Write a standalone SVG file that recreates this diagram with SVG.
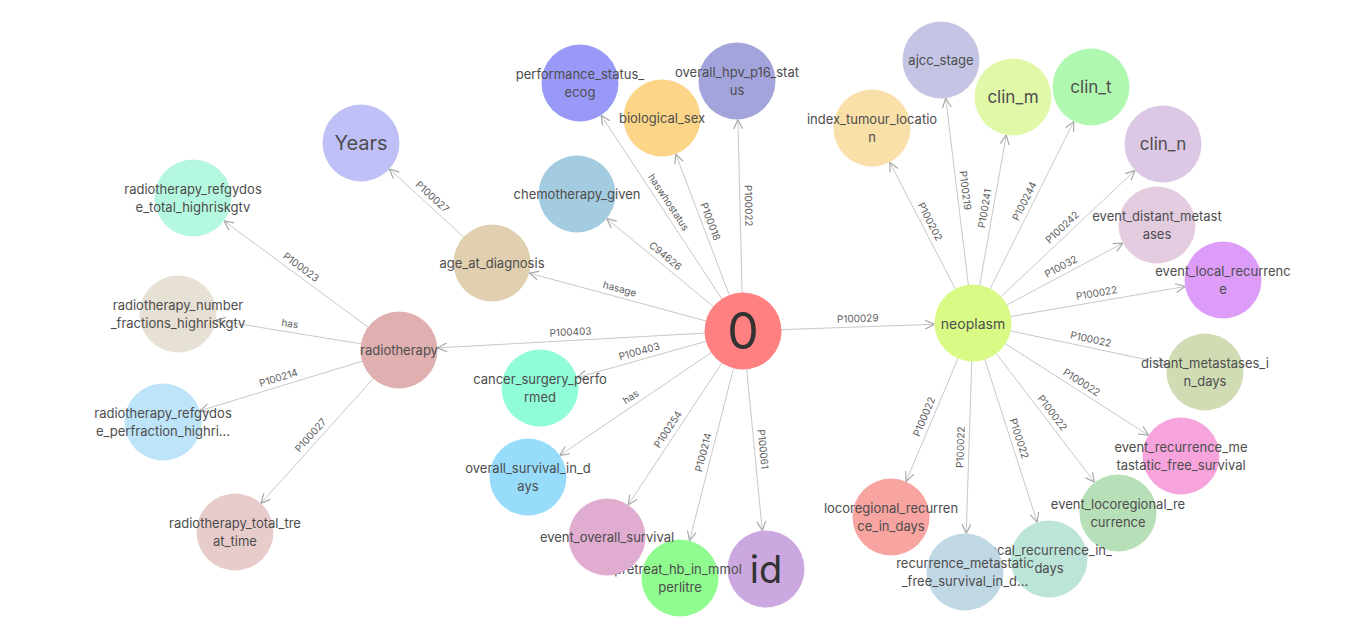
<svg xmlns="http://www.w3.org/2000/svg" width="1360" height="627" viewBox="0 0 1360 627">
<style>
.e line{stroke:#c8c8c8;stroke-width:1;fill:none}
.el{font-family:Inter,"Noto Sans",sans-serif;font-size:10px;fill:#5e5e5e;text-anchor:middle}
.n circle{stroke:none}
.t{font-family:Inter,"Noto Sans",sans-serif;font-size:13px;fill:#4d4d4d;text-anchor:middle;dominant-baseline:central}
.m{font-size:14px}
.c{font-size:17px}
.y{font-size:20px}
.big{font-size:50px;fill:#333}
.id{font-size:38px;fill:#333}
</style>
<defs>
<marker id="arr" viewBox="0 0 10 10" refX="10" refY="5" markerWidth="10" markerHeight="10" markerUnits="userSpaceOnUse" orient="auto">
<path d="M0.6,0.6 L10,5 L0.6,9.4" fill="none" stroke="#a8a8a8" stroke-width="1.2"/>
</marker>
</defs>
<rect width="1360" height="627" fill="#fff"/>
<g id="edges" class="e">
<line x1="743" y1="331" x2="437.4" y2="347.9" marker-end="url(#arr)"/>
<text class="el" transform="translate(571 340.5) rotate(-3.2)" y="-5">P100403</text>
<line x1="743" y1="331" x2="529.2" y2="273.1" marker-end="url(#arr)"/>
<text class="el" transform="translate(617.5 297) rotate(15.2)" y="-5">hasage</text>
<line x1="743" y1="331" x2="606.7" y2="218.5" marker-end="url(#arr)"/>
<text class="el" transform="translate(660 262.5) rotate(39.5)" y="-5">C94626</text>
<line x1="743" y1="331" x2="601.1" y2="115.2" marker-end="url(#arr)"/>
<text class="el" transform="translate(661.5 207) rotate(56.7)" y="-5">haswhostatus</text>
<line x1="743" y1="331" x2="675.7" y2="154" marker-end="url(#arr)"/>
<text class="el" transform="translate(702.5 224.5) rotate(69.2)" y="-5">P100018</text>
<line x1="743" y1="331" x2="737.9" y2="119.5" marker-end="url(#arr)"/>
<text class="el" transform="translate(740 206) rotate(88.6)" y="-5">P100022</text>
<line x1="743" y1="331" x2="577.1" y2="377.6" marker-end="url(#arr)"/>
<text class="el" transform="translate(641.5 359.5) rotate(-15.7)" y="-5">P100403</text>
<line x1="743" y1="331" x2="559.8" y2="455.4" marker-end="url(#arr)"/>
<text class="el" transform="translate(635.5 404) rotate(-34.2)" y="-5">has</text>
<line x1="743" y1="331" x2="628.2" y2="504.9" marker-end="url(#arr)"/>
<text class="el" transform="translate(675 434) rotate(-56.6)" y="-5">P100254</text>
<line x1="743" y1="331" x2="689.5" y2="540.7" marker-end="url(#arr)"/>
<text class="el" transform="translate(711.5 454.5) rotate(-75.7)" y="-5">P100214</text>
<line x1="743" y1="331" x2="762.3" y2="530.7" marker-end="url(#arr)"/>
<text class="el" transform="translate(754.5 450) rotate(84.5)" y="-5">P100061</text>
<line x1="743" y1="331" x2="934.5" y2="324.3" marker-end="url(#arr)"/>
<text class="el" transform="translate(858 327) rotate(-2)" y="-5">P100029</text>
<line x1="492" y1="263" x2="389.4" y2="169" marker-end="url(#arr)"/>
<text class="el" transform="translate(426.5 203) rotate(42.5)" y="-5">P100027</text>
<line x1="399" y1="350" x2="224" y2="220.9" marker-end="url(#arr)"/>
<text class="el" transform="translate(296 274) rotate(36.4)" y="-5">P100023</text>
<line x1="399" y1="350" x2="216" y2="320.2" marker-end="url(#arr)"/>
<text class="el" transform="translate(288.5 332) rotate(9.3)" y="-5">has</text>
<line x1="399" y1="350" x2="199.8" y2="410.8" marker-end="url(#arr)"/>
<text class="el" transform="translate(281 386) rotate(-17)" y="-5">P100214</text>
<line x1="399" y1="350" x2="260.8" y2="503.4" marker-end="url(#arr)"/>
<text class="el" transform="translate(317 441) rotate(-48)" y="-5">P100027</text>
<line x1="973" y1="323" x2="889.7" y2="162.2" marker-end="url(#arr)"/>
<text class="el" transform="translate(922.5 225.5) rotate(62.6)" y="-5">P100202</text>
<line x1="973" y1="323" x2="945.7" y2="98.2" marker-end="url(#arr)"/>
<text class="el" transform="translate(957 191.5) rotate(83.1)" y="-5">P100219</text>
<line x1="973" y1="323" x2="1006.3" y2="134.9" marker-end="url(#arr)"/>
<text class="el" transform="translate(993 210) rotate(-80)" y="-5">P100241</text>
<line x1="973" y1="323" x2="1073.8" y2="121.4" marker-end="url(#arr)"/>
<text class="el" transform="translate(1032 205) rotate(-63.4)" y="-5">P100244</text>
<line x1="973" y1="323" x2="1135" y2="170.4" marker-end="url(#arr)"/>
<text class="el" transform="translate(1068 233.5) rotate(-43.3)" y="-5">P100242</text>
<line x1="973" y1="323" x2="1123" y2="243.1" marker-end="url(#arr)"/>
<text class="el" transform="translate(1065 274) rotate(-28)" y="-5">P10032</text>
<line x1="973" y1="323" x2="1185.1" y2="286.5" marker-end="url(#arr)"/>
<text class="el" transform="translate(1098 301.5) rotate(-9.8)" y="-5">P100022</text>
<line x1="973" y1="323" x2="1167.3" y2="364" marker-end="url(#arr)"/>
<text class="el" transform="translate(1089 347.5) rotate(11.9)" y="-5">P100022</text>
<line x1="973" y1="323" x2="1148.6" y2="435.3" marker-end="url(#arr)"/>
<text class="el" transform="translate(1077 389.5) rotate(32.6)" y="-5">P100022</text>
<line x1="973" y1="323" x2="1094.6" y2="482.4" marker-end="url(#arr)"/>
<text class="el" transform="translate(1045.5 418) rotate(52.7)" y="-5">P100022</text>
<line x1="973" y1="323" x2="1037.2" y2="522.3" marker-end="url(#arr)"/>
<text class="el" transform="translate(1011 441) rotate(72.2)" y="-5">P100022</text>
<line x1="973" y1="323" x2="966.2" y2="533.5" marker-end="url(#arr)"/>
<text class="el" transform="translate(969 447.5) rotate(-88.2)" y="-5">P100022</text>
<line x1="973" y1="323" x2="906" y2="481.5" marker-end="url(#arr)"/>
<text class="el" transform="translate(932 420) rotate(-67.1)" y="-5">P100022</text>
</g>
<g id="nodes" class="n">
<g id="n-0"><circle cx="743" cy="331" r="38.5" fill="#ff8080"/><text class="t big" x="743" y="331">0</text></g>
<g id="n-neoplasm"><circle cx="973" cy="323" r="38.5" fill="#d9fb86"/><text class="t m" x="973" y="323">neoplasm</text></g>
<g id="n-radiotherapy"><circle cx="399" cy="350" r="38.5" fill="#e0b0b0"/><text class="t" x="399" y="350">radiotherapy</text></g>
<g id="n-age_at_diagnosis"><circle cx="492" cy="263" r="38.5" fill="#e0d0b0"/><text class="t" x="492" y="263">age_at_diagnosis</text></g>
<g id="n-years"><circle cx="361" cy="143" r="38.5" fill="#c0c0f8"/><text class="t y" x="361" y="143">Years</text></g>
<g id="n-rt_refgydose_total"><circle cx="193" cy="198" r="38.5" fill="#b5f8e0"/><text class="t" x="193" y="188.6">radiotherapy_refgydos</text><text class="t" x="193" y="207.4">e_total_highriskgtv</text></g>
<g id="n-rt_number_fractions"><circle cx="178" cy="314" r="38.5" fill="#e7e0d4"/><text class="t" x="178" y="304.6">radiotherapy_number</text><text class="t" x="178" y="323.4">_fractions_highriskgtv</text></g>
<g id="n-rt_refgydose_perfraction"><circle cx="163" cy="422" r="38.5" fill="#bde4f8"/><text class="t" x="163" y="412.6">radiotherapy_refgydos</text><text class="t" x="163" y="431.4">e_perfraction_highri…</text></g>
<g id="n-rt_total_treat_time"><circle cx="235" cy="532" r="38.5" fill="#e8cccc"/><text class="t" x="235" y="522.6">radiotherapy_total_tre</text><text class="t" x="235" y="541.4">at_time</text></g>
<g id="n-performance_status_ecog"><circle cx="580" cy="83" r="38.5" fill="#9999f8"/><text class="t" x="580" y="73.6">performance_status_</text><text class="t" x="580" y="92.4">ecog</text></g>
<g id="n-biological_sex"><circle cx="662" cy="118" r="38.5" fill="#fdd588"/><text class="t" x="662" y="118">biological_sex</text></g>
<g id="n-overall_hpv_p16_status"><circle cx="737" cy="81" r="38.5" fill="#a4a4dd"/><text class="t" x="737" y="71.6">overall_hpv_p16_stat</text><text class="t" x="737" y="90.4">us</text></g>
<g id="n-chemotherapy_given"><circle cx="577" cy="194" r="38.5" fill="#a4cce0"/><text class="t" x="577" y="194">chemotherapy_given</text></g>
<g id="n-cancer_surgery_performed"><circle cx="540" cy="388" r="38.5" fill="#90fcd8"/><text class="t" x="540" y="378.6">cancer_surgery_perfo</text><text class="t" x="540" y="397.4">rmed</text></g>
<g id="n-overall_survival_in_days"><circle cx="528" cy="477" r="38.5" fill="#98dcfc"/><text class="t" x="528" y="467.6">overall_survival_in_d</text><text class="t" x="528" y="486.4">ays</text></g>
<g id="n-id"><circle cx="766" cy="569" r="38.5" fill="#cca8e0"/><text class="t id" x="766" y="569">id</text></g>
<g id="n-pretreat_hb"><circle cx="680" cy="578" r="38.5" fill="#90fc90"/><text class="t" x="678" y="569">pretreat_hb_in_mmol</text><text class="t" x="680" y="587.4">perlitre</text></g>
<g id="n-event_overall_survival"><circle cx="607" cy="537" r="38.5" fill="#e0acd0"/><text class="t" x="607" y="537">event_overall_survival</text></g>
<g id="n-index_tumour_location"><circle cx="872" cy="128" r="38.5" fill="#f9e0a8"/><text class="t" x="872" y="118.6">index_tumour_locatio</text><text class="t" x="872" y="137.4">n</text></g>
<g id="n-ajcc_stage"><circle cx="941" cy="60" r="38.5" fill="#c4c4e4"/><text class="t" x="941" y="60">ajcc_stage</text></g>
<g id="n-clin_m"><circle cx="1013" cy="97" r="38.5" fill="#e0f8a8"/><text class="t c" x="1013" y="97">clin_m</text></g>
<g id="n-clin_t"><circle cx="1091" cy="87" r="38.5" fill="#b0f8b0"/><text class="t c" x="1091" y="87">clin_t</text></g>
<g id="n-clin_n"><circle cx="1163" cy="144" r="38.5" fill="#dcc8e4"/><text class="t c" x="1163" y="144">clin_n</text></g>
<g id="n-event_distant_metastases"><circle cx="1157" cy="225" r="38.5" fill="#e4cce0"/><text class="t" x="1157" y="215.6">event_distant_metast</text><text class="t" x="1157" y="234.4">ases</text></g>
<g id="n-event_local_recurrence"><circle cx="1223" cy="280" r="38.5" fill="#dc9cf8"/><text class="t" x="1223" y="270.6">event_local_recurrenc</text><text class="t" x="1223" y="289.4">e</text></g>
<g id="n-distant_metastases_in_days"><circle cx="1205" cy="372" r="38.5" fill="#d0dcb4"/><text class="t" x="1205" y="362.6">distant_metastases_i</text><text class="t" x="1205" y="381.4">n_days</text></g>
<g id="n-event_recurrence_mfs"><circle cx="1181" cy="456" r="38.5" fill="#f8a4dc"/><text class="t" x="1181" y="446.6">event_recurrence_me</text><text class="t" x="1181" y="465.4">tastatic_free_survival</text></g>
<g id="n-event_locoregional_recurrence"><circle cx="1118" cy="513" r="38.5" fill="#b8e0b8"/><text class="t" x="1118" y="503.6">event_locoregional_re</text><text class="t" x="1118" y="522.4">currence</text></g>
<g id="n-locoregional_recurrence_in_days"><circle cx="891" cy="517" r="38.5" fill="#f8a4a0"/><text class="t" x="891" y="507.6">locoregional_recurren</text><text class="t" x="891" y="526.4">ce_in_days</text></g>
<g id="n-local_recurrence_in_days"><circle cx="1049" cy="559" r="38.5" fill="#bce4d8"/><text class="t" x="1049" y="549.6">local_recurrence_in_</text><text class="t" x="1049" y="568.4">days</text></g>
<g id="n-recurrence_mfs_in_days"><circle cx="965" cy="572" r="38.5" fill="#c0d8e4"/><text class="t" x="965" y="562.6">recurrence_metastatic</text><text class="t" x="965" y="581.4">_free_survival_in_d…</text></g>
</g>
</svg>
